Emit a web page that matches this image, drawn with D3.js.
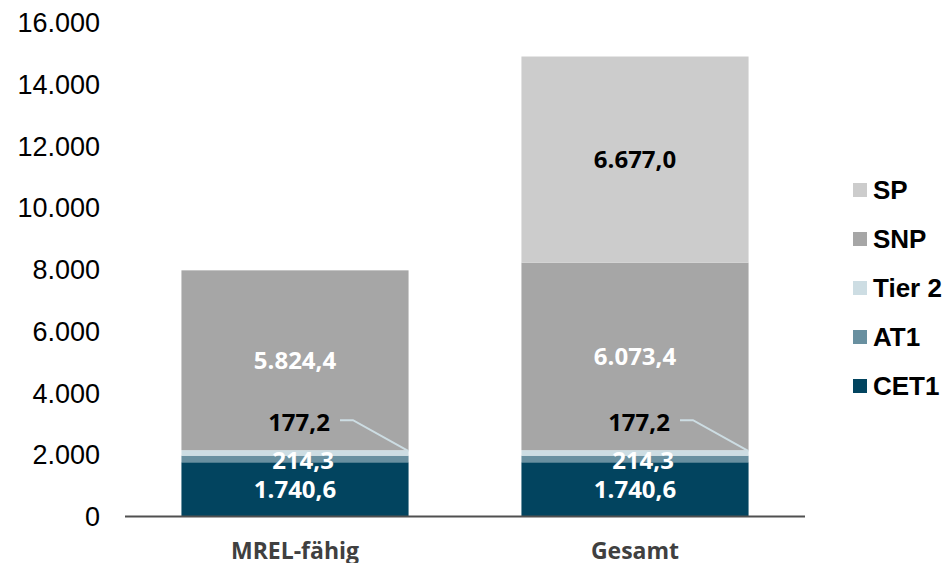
<!DOCTYPE html>
<html><head><meta charset="utf-8">
<script src="https://cdn.jsdelivr.net/npm/d3@7/dist/d3.min.js"></script>
<style>body{margin:0;background:#fff}svg{display:block}</style>
</head><body><svg id="c" width="949" height="563"></svg>
<script>
const categories = ["MREL-fähig", "Gesamt"];
const seriesNames = ["CET1", "AT1", "Tier 2", "SNP", "SP"];
const cet1 = [1740.6, 1740.6];
const at1 = [214.3, 214.3];
const tier2 = [177.2, 177.2];
const snp = [5824.4, 6073.4];
const sp = [0, 6677.0];
const yTicks = [0, 2000, 4000, 6000, 8000, 10000, 12000, 14000, 16000];
const colors = {"CET1":"#02445f","AT1":"#6990a0","Tier 2":"#cddde3","SNP":"#a6a6a6","SP":"#cccccc"};
const labelColors = {"CET1":"#ffffff","AT1":"#ffffff","Tier 2":"#000000","SNP":"#ffffff","SP":"#000000"};
const legendOrder = ["SP", "SNP", "Tier 2", "AT1", "CET1"];

const de = d3.formatLocale({decimal:",", thousands:".", grouping:[3], currency:["","€"]});
const fmtTick = de.format(",.0f");
const fmtVal = de.format(",.1f");

const rows = categories.map((c,i)=>({cat:c,"CET1":cet1[i],"AT1":at1[i],"Tier 2":tier2[i],"SNP":snp[i],"SP":sp[i]}));
const stack = d3.stack().keys(seriesNames)(rows);

const svg = d3.select("#c");
const x = d3.scaleBand().domain(categories).range([125, 805]).paddingInner(0.332).paddingOuter(0.166);
const y = d3.scaleLinear().domain([0, 16000]).range([516, 22]);

// y tick labels
const yAxis = d3.axisLeft(y).tickValues(yTicks).tickFormat(fmtTick).tickSize(0).tickPadding(0);
const ga = svg.append("g").attr("transform","translate(100,0)").call(yAxis);
ga.select(".domain").remove();
ga.selectAll("text").attr("font-family","'Liberation Sans', Arial, sans-serif").attr("font-size",27).attr("fill","#000").attr("dy","0.36em");

// bars
stack.forEach(layer=>{
  const key = layer.key;
  svg.append("g").selectAll("rect").data(layer).join("rect")
    .attr("x", d=>x(d.data.cat))
    .attr("width", x.bandwidth())
    .attr("y", d=>y(d[1]))
    .attr("height", d=>Math.max(0, y(d[0]) - y(d[1])))
    .attr("fill", colors[key]);
});

// x axis line
svg.append("line").attr("x1",125).attr("x2",805).attr("y1",516.5).attr("y2",516.5)
  .attr("stroke","#505050").attr("stroke-width",2);

// labels
const lblFont = "'Open Sans', 'Lato', sans-serif";
stack.forEach(layer=>{
  const key = layer.key;
  layer.forEach(d=>{
    const v = d[1]-d[0];
    if (v <= 0) return;
    const cx = x(d.data.cat) + x.bandwidth()/2;
    let tx = cx, ty = (y(d[0])+y(d[1]))/2;
    if (key === "AT1") { tx = cx + 8; ty = ty + 1; }
    if (key === "Tier 2") {
      tx = cx + 4; ty = y(d[1]) - 28;
      const xr = x(d.data.cat) + x.bandwidth();
      svg.append("polyline")
        .attr("points", [[tx+41, ty-2],[tx+54, ty-2],[xr, y(d[1])+1]].map(p=>p.join(",")).join(" "))
        .attr("fill","none").attr("stroke","#cddde3").attr("stroke-width",2);
    }
    svg.append("text").attr("x",tx).attr("y",ty).attr("dy","0.36em")
      .attr("text-anchor","middle").attr("font-family",lblFont).attr("font-weight",700)
      .attr("font-size",24).attr("fill",labelColors[key]).text(fmtVal(v));
  });
});

// category labels
svg.append("g").selectAll("text").data(categories).join("text")
  .attr("x", d=>x(d)+x.bandwidth()/2).attr("y", 559)
  .attr("text-anchor","middle").attr("font-family",lblFont).attr("font-weight",700)
  .attr("font-size",23).attr("fill","#404040").text(d=>d);

// legend
const lg = svg.append("g");
legendOrder.forEach((k,i)=>{
  const cy = 190 + i*49;
  lg.append("rect").attr("x",853).attr("y",cy-7).attr("width",14).attr("height",14).attr("fill",colors[k]);
  lg.append("text").attr("x",873).attr("y",cy).attr("dy","0.36em")
    .attr("font-family","'Liberation Sans', Arial, sans-serif").attr("font-weight",700)
    .attr("font-size",26).attr("fill","#000").text(k);
});
</script></body></html>
